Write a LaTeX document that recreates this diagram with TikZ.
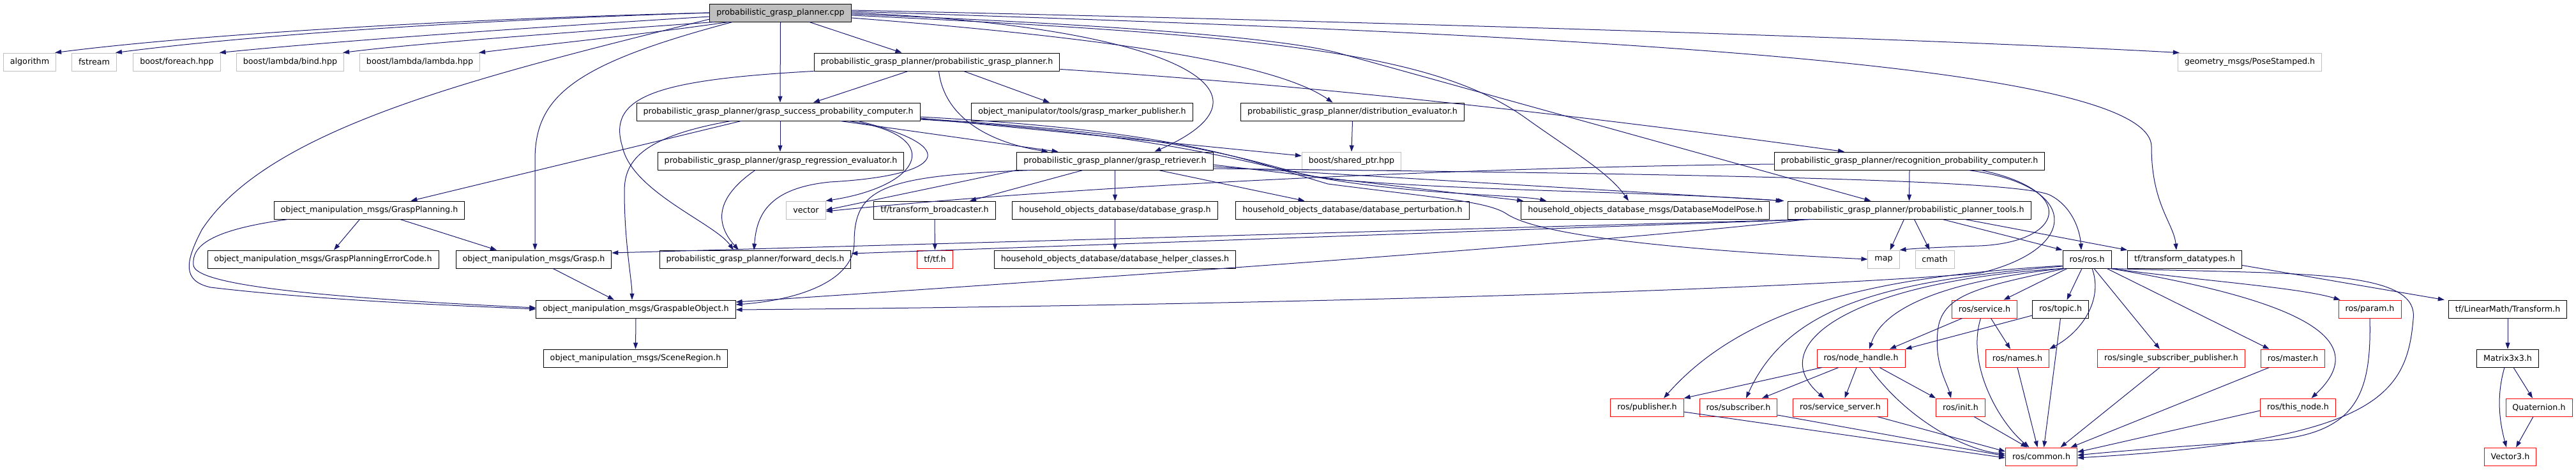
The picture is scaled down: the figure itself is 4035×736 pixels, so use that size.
\documentclass[tikz,border=0pt]{standalone}
\usepackage{fontspec}
\setmainfont{DejaVu Sans}
\usetikzlibrary{arrows.meta}
\definecolor{edgeblue}{RGB}{25,25,112}
\definecolor{sysgray}{RGB}{191,191,191}

\begin{document}
\begin{tikzpicture}[
        x=1pt, y=-1pt,
        every node/.style={rectangle, draw=black, line width=0.9pt, fill=white, minimum height=28pt, inner xsep=10.5pt, inner ysep=0pt, font=\fontsize{12.7}{14}\selectfont},
        srcfile/.style={fill=sysgray},
        sysfile/.style={draw=sysgray},
        truncfile/.style={draw=red},
        edge/.style={draw=edgeblue, line width=1pt, -{Triangle[length=10pt, width=7pt]}},
    ]
    \useasboundingbox (0,0) rectangle (4035,736);

    % === SOURCE FILE ===
    \node[srcfile] (cpp) at (1222.5,20) {probabilistic\_grasp\_planner.cpp};

    % === ROW 2 ===
    \node[sysfile] (alg) at (46.5,97) {algorithm};
    \node[sysfile] (fstream) at (147.5,97) {fstream};
    \node[sysfile] (foreach) at (277,97) {boost/foreach.hpp};
    \node[sysfile] (bind) at (454.5,97) {boost/lambda/bind.hpp};
    \node[sysfile] (lambda) at (657.5,97) {boost/lambda/lambda.hpp};
    \node (pgp) at (1467.5,97) {probabilistic\_grasp\_planner/probabilistic\_grasp\_planner.h};
    \node[sysfile] (pose) at (3524,97) {geometry\_msgs/PoseStamped.h};

    % === ROW 3 ===
    \node (gspc) at (1219,175) {probabilistic\_grasp\_planner/grasp\_success\_probability\_computer.h};
    \node (marker) at (1695,175) {object\_manipulator/tools/grasp\_marker\_publisher.h};
    \node (disteval) at (2118.5,175) {probabilistic\_grasp\_planner/distribution\_evaluator.h};

    % === ROW 4 ===
    \node (regression) at (1223,252) {probabilistic\_grasp\_planner/grasp\_regression\_evaluator.h};
    \node (retriever) at (1746.5,252) {probabilistic\_grasp\_planner/grasp\_retriever.h};
    \node[sysfile] (sharedptr) at (2117,252) {boost/shared\_ptr.hpp};
    \node (recog) at (2991,252) {probabilistic\_grasp\_planner/recognition\_probability\_computer.h};

    % === ROW 5 ===
    \node (gp) at (578.5,329) {object\_manipulation\_msgs/GraspPlanning.h};
    \node[sysfile] (vector) at (1262.5,329) {vector};
    \node (tfb) at (1464,329) {tf/transform\_broadcaster.h};
    \node (dbgrasp) at (1746.5,329) {household\_objects\_database/database\_grasp.h};
    \node (dbperturb) at (2118.5,329) {household\_objects\_database/database\_perturbation.h};
    \node (dbmodelpose) at (2577,329) {household\_objects\_database\_msgs/DatabaseModelPose.h};
    \node (tools) at (2990.5,329) {probabilistic\_grasp\_planner/probabilistic\_planner\_tools.h};

    % === ROW 6 ===
    \node (errorcode) at (506,406) {object\_manipulation\_msgs/GraspPlanningErrorCode.h};
    \node (grasp) at (836,406) {object\_manipulation\_msgs/Grasp.h};
    \node (fwddecls) at (1183,406) {probabilistic\_grasp\_planner/forward\_decls.h};
    \node[truncfile] (tftf) at (1464.5,406) {tf/tf.h};
    \node (helper) at (1746.5,406) {household\_objects\_database/database\_helper\_classes.h};
    \node[sysfile] (map) at (2950.5,406) {map};
    \node[sysfile] (cmath) at (3030.5,406) {cmath};
    \node (ros) at (3269,406) {ros/ros.h};
    \node (tfdt) at (3422,406) {tf/transform\_datatypes.h};

    % === ROW 7 ===
    \node (graspable) at (996,484) {object\_manipulation\_msgs/GraspableObject.h};
    \node[truncfile] (service) at (3108.5,484) {ros/service.h};
    \node (topic) at (3227.5,484) {ros/topic.h};
    \node[truncfile] (param) at (3712,484) {ros/param.h};
    \node (transform) at (3928,484) {tf/LinearMath/Transform.h};

    % === ROW 8 ===
    \node (scene) at (995.5,561) {object\_manipulation\_msgs/SceneRegion.h};
    \node[truncfile] (nodehandle) at (2915,561) {ros/node\_handle.h};
    \node[truncfile] (names) at (3160,561) {ros/names.h};
    \node[truncfile] (singlesub) at (3401,561) {ros/single\_subscriber\_publisher.h};
    \node[truncfile] (master) at (3591.5,561) {ros/master.h};
    \node (matrix) at (3928,561) {Matrix3x3.h};

    % === ROW 9 ===
    \node[truncfile] (publisher) at (2580,638) {ros/publisher.h};
    \node[truncfile] (subscriber) at (2723,638) {ros/subscriber.h};
    \node[truncfile] (server) at (2882.5,638) {ros/service\_server.h};
    \node[truncfile] (init) at (3071,638) {ros/init.h};
    \node[truncfile] (thisnode) at (3599.5,638) {ros/this\_node.h};
    \node[truncfile] (quaternion) at (3977,638) {Quaternion.h};

    % === ROW 10 ===
    \node[truncfile] (common) at (3197.5,715) {ros/common.h};
    \node[truncfile] (vector3) at (3932,715) {Vector3.h};

    % === INCLUDES OF THE SOURCE FILE ===
    \draw[edge] (cpp.west) .. controls (700,30) and (300,55) .. ([xshift=-2pt]alg.north east);
    \draw[edge] (cpp.west) .. controls (700,33) and (380,57) .. ([xshift=-2pt]fstream.north east);
    \draw[edge] ([yshift=-6pt]cpp.west) .. controls (800,45) and (520,65) .. ([xshift=-2pt]foreach.north east);
    \draw[edge] ([xshift=8pt]cpp.south west) .. controls (900,50) and (650,68) .. ([xshift=-2pt]bind.north east);
    \draw[edge] ([xshift=30pt]cpp.south west) .. controls (1000,55) and (850,70) .. ([xshift=-2pt]lambda.north east);
    \draw[edge] ([xshift=45pt]cpp.south) -- ([xshift=-55pt]pgp.north);
    \draw[edge] (cpp.south) -- ([xshift=3pt]gspc.north);
    \draw[edge] (cpp.east) .. controls (1820,40) and (2030,140) .. ([xshift=62pt]retriever.north);
    \draw[edge] ([yshift=-8pt]cpp.east) .. controls (1750,60) and (2000,100) .. ([xshift=-31pt]disteval.north);
    \draw[edge] ([yshift=-4pt]cpp.east) .. controls (2000,55) and (2250,85) .. (2390,185) .. controls (2460,235) and (2520,270) .. ([xshift=-26pt]dbmodelpose.north);
    \draw[edge] ([yshift=-2pt]cpp.east) .. controls (1900,45) and (2050,70) .. (2100,84) -- ([xshift=-60pt]tools.north);
    \draw[edge] ([yshift=2pt]cpp.east) .. controls (2500,55) and (3370,100) .. (3370,230) .. controls (3370,320) and (3405,350) .. ([xshift=-13pt]tfdt.north);
    \draw[edge] ([yshift=4pt]cpp.east) .. controls (2200,35) and (3000,60) .. ([xshift=3pt]pose.north west);
    \draw[edge] ([xshift=-75pt]cpp.south) .. controls (900,100) and (838,150) .. (838,250) -- ([xshift=2pt]grasp.north);
    \draw[edge] ([yshift=-10pt]cpp.west) .. controls (750,120) and (420,200) .. (316,360) .. controls (290,410) and (285,440) .. (330,450) .. controls (500,470) and (700,478) .. (graspable.west);

    % === PLANNER HEADER ===
    \draw[edge] ([xshift=-45pt]pgp.south) -- ([xshift=55pt]gspc.north);
    \draw[edge] ([xshift=42pt]pgp.south) -- ([xshift=-51pt]marker.north);
    \draw[edge] ([xshift=3pt]pgp.south) .. controls (1480,190) and (1560,225) .. ([xshift=-105pt]retriever.north);
    \draw[edge] ([yshift=3pt]pgp.south east) .. controls (2000,130) and (2400,170) .. ([xshift=-102pt]recog.north);
    \draw[edge] (pgp.south west) .. controls (1030,125) and (950,150) .. (975,230) .. controls (990,300) and (1120,350) .. ([xshift=-34pt]fwddecls.north);

    % === SUCCESS PROBABILITY COMPUTER ===
    \draw[edge] ([xshift=-58pt]gspc.south) -- ([xshift=65pt]gp.north);
    \draw[edge] ([xshift=-74pt]gspc.south) .. controls (1000,215) and (978,255) .. (978,300) .. controls (978,380) and (990,440) .. ([xshift=-6pt]graspable.north);
    \draw[edge] ([xshift=3pt]gspc.south) -- ([xshift=-1pt]regression.north);
    \draw[edge] ([xshift=97pt]gspc.south) -- ([xshift=-89pt]retriever.north);
    \draw[edge] ([xshift=110pt]gspc.south) .. controls (1480,210) and (1450,290) .. (vector.north east);
    \draw[edge] ([xshift=125pt]gspc.south) .. controls (1510,230) and (1480,275) .. (1300,285) .. controls (1200,295) and (1185,340) .. ([xshift=-2pt]fwddecls.north);
    \draw[edge] ([yshift=-10pt]gspc.east) -- ([yshift=8pt]sharedptr.west);
    \draw[edge] ([yshift=-11pt]gspc.east) .. controls (1850,210) and (1950,250) .. (2050,275) .. controls (2200,305) and (2380,305) .. ([xshift=40pt]dbmodelpose.north west);
    \draw[edge] ([yshift=-12pt]gspc.east) .. controls (1850,212) and (1960,260) .. (2080,280) .. controls (2300,300) and (2600,300) .. ([xshift=-8pt]tools.north west);
    \draw[edge] ([yshift=-8pt]gspc.east) .. controls (1850,205) and (1950,250) .. (2080,288) .. controls (2250,310) and (2330,315) .. (2360,335) .. controls (2420,375) and (2700,395) .. (map.west);

    % === REGRESSION EVALUATOR AND RETRIEVER ===
    \draw[edge] ([xshift=-40pt]regression.south) .. controls (1120,310) and (1120,350) .. ([xshift=-26pt]fwddecls.north);
    \draw[edge] (retriever.south west) -- (vector.east);
    \draw[edge] ([xshift=-130pt]retriever.south) .. controls (1380,275) and (1338,295) .. (1338,380) .. controls (1338,440) and (1250,470) .. ([yshift=7pt]graspable.east);
    \draw[edge] ([xshift=-50pt]retriever.south) -- ([xshift=55pt]tfb.north);
    \draw[edge] (retriever.south) -- (dbgrasp.north);
    \draw[edge] ([xshift=68pt]retriever.south) -- ([xshift=-75pt]dbperturb.north);
    \draw[edge] ([yshift=-6pt]retriever.east) -- ([xshift=4pt]dbmodelpose.north west);
    \draw[edge] ([yshift=-9pt]retriever.east) -- ([xshift=-5pt]tools.north west);
    \draw[edge] ([yshift=-12pt]retriever.east) .. controls (2600,272) and (3150,280) .. (3210,305) .. controls (3245,322) and (3258,360) .. ([xshift=-9pt]ros.north);
    \draw[edge] (disteval.south) -- (sharedptr.north);

    % === RECOGNITION PROBABILITY COMPUTER ===
    \draw[edge] (recog.south) -- (tools.north);
    \draw[edge] ([yshift=-5pt]recog.west) .. controls (2300,262) and (1700,290) .. ([yshift=-2pt]vector.east);
    \draw[edge] ([xshift=112pt]recog.south) .. controls (3260,300) and (3230,380) .. (3100,385) .. controls (3040,387) and (3000,389) .. (map.north east);
    \draw[edge] ([xshift=92pt]recog.south) .. controls (3260,290) and (3260,390) .. (3100,428) .. controls (2700,460) and (1800,480) .. ([yshift=-1pt]graspable.east);

    % === GRASP PLANNING MESSAGE ===
    \draw[edge] ([xshift=-15pt]gp.south) -- ([xshift=17pt]errorcode.north);
    \draw[edge] ([xshift=48pt]gp.south) -- ([xshift=-58pt]grasp.north);
    \draw[edge] ([xshift=-127pt]gp.south) .. controls (330,360) and (300,385) .. (303,415) .. controls (305,445) and (480,465) .. ([yshift=2pt]graspable.west);
    \draw[edge] ([xshift=30pt]grasp.south) -- ([xshift=-34pt]graspable.north);
    \draw[edge] (graspable.south) -- (scene.north);
    \draw[edge] (tfb.south) -- (tftf.north);
    \draw[edge] (dbgrasp.south) -- (helper.north);

    % === PLANNER TOOLS ===
    \draw[edge] ([xshift=-8pt]tools.south) -- ([xshift=10pt]map.north);
    \draw[edge] ([xshift=8pt]tools.south) -- ([xshift=-8pt]cmath.north);
    \draw[edge] ([xshift=52pt]tools.south) -- (ros.north west);
    \draw[edge] ([xshift=87pt]tools.south) -- (tfdt.north west);
    \draw[edge] ([xshift=-150pt]tools.south) -- ([yshift=9pt]fwddecls.east);
    \draw[edge] ([xshift=-160pt]tools.south) .. controls (2600,370) and (2100,410) .. ([yshift=11pt]graspable.east);
    \draw[edge] ([xshift=-155pt]tools.south) -- ([yshift=10pt]grasp.east);

    % === ROS HEADERS ===
    \draw[edge] ([yshift=-10pt]ros.west) .. controls (3000,430) and (2750,460) .. ([xshift=26pt]publisher.north);
    \draw[edge] ([yshift=-11pt]ros.west) .. controls (2950,440) and (2800,480) .. ([xshift=12pt]subscriber.north);
    \draw[edge] ([xshift=2pt]ros.south west) .. controls (2900,440) and (2760,540) .. ([xshift=-25pt]server.north);
    \draw[edge] (ros.south west) .. controls (3050,440) and (2950,480) .. ([xshift=13pt]nodehandle.north);
    \draw[edge] ([xshift=4pt]ros.south west) .. controls (3100,450) and (3040,460) .. (3035,520) .. controls (3030,570) and (3050,600) .. ([xshift=-15pt]init.north);
    \draw[edge] ([xshift=-31pt]ros.south) -- ([xshift=30pt]service.north);
    \draw[edge] ([xshift=-8pt]ros.south) -- ([xshift=10pt]topic.north);
    \draw[edge] ([xshift=8pt]ros.south) .. controls (3295,470) and (3260,520) .. (names.north east);
    \draw[edge] ([xshift=11pt]ros.south) -- ([xshift=-18pt]singlesub.north);
    \draw[edge] ([xshift=31pt]ros.south) -- ([xshift=-37pt]master.north);
    \draw[edge] ([xshift=-2pt]ros.south east) .. controls (3600,470) and (3720,530) .. ([xshift=21pt]thisnode.north);
    \draw[edge] ([xshift=-1pt]ros.south east) .. controls (3450,440) and (3600,450) .. ([xshift=3pt]param.north west);
    \draw[edge] (ros.south east) .. controls (3600,430) and (3790,420) .. (3780,500) .. controls (3770,620) and (3720,690) .. ([yshift=-2pt]common.east);

    \draw[edge] ([xshift=-35pt]service.south) -- ([xshift=45pt]nodehandle.north);
    \draw[edge] ([xshift=10pt]service.south) -- ([xshift=-11pt]names.north);
    \draw[edge] ([xshift=-6pt]service.south) .. controls (3080,570) and (3130,660) .. ([xshift=-19pt]common.north);
    \draw[edge] ([yshift=-10pt]topic.west) -- (nodehandle.north east);
    \draw[edge] (topic.south) -- ([xshift=4pt]common.north);

    \draw[edge] ([xshift=-61pt]nodehandle.south) -- (publisher.north east);
    \draw[edge] ([xshift=-35pt]nodehandle.south) -- ([xshift=37pt]subscriber.north);
    \draw[edge] ([xshift=-7pt]nodehandle.south) -- ([xshift=7pt]server.north);
    \draw[edge] ([xshift=29pt]nodehandle.south) -- (init.north west);
    \draw[edge] ([xshift=13pt]nodehandle.south) .. controls (2990,660) and (3080,705) .. ([yshift=4pt]common.west);

    \draw[edge] ([yshift=-7pt]publisher.east) -- ([yshift=-2pt]common.west);
    \draw[edge] ([yshift=-12pt]subscriber.east) -- ([yshift=1pt]common.west);
    \draw[edge] ([xshift=58pt]server.south) -- ([yshift=8pt]common.west);
    \draw[edge] ([xshift=21pt]init.south) -- ([xshift=-22pt]common.north);
    \draw[edge] (names.south) -- ([xshift=-6pt]common.north);
    \draw[edge] ([xshift=-18pt]singlesub.south) -- ([xshift=30pt]common.north);
    \draw[edge] ([xshift=-37pt]master.south) -- ([xshift=46pt]common.north);
    \draw[edge] ([yshift=-5pt]thisnode.west) -- ([yshift=7pt]common.east);
    \draw[edge] (param.south) .. controls (3715,620) and (3690,680) .. (3550,690) .. controls (3400,700) and (3300,708) .. ([yshift=2pt]common.east);

    % === LINEAR MATH ===
    \draw[edge] ([yshift=5pt]tfdt.south east) -- ([xshift=-6pt]transform.north west);
    \draw[edge] (transform.south) -- (matrix.north);
    \draw[edge] ([xshift=9pt]matrix.south) -- ([xshift=-10pt]quaternion.north);
    \draw[edge] ([xshift=-5pt]matrix.south) .. controls (3910,620) and (3915,660) .. ([xshift=-6pt]vector3.north);
    \draw[edge] ([xshift=-9pt]quaternion.south) -- ([xshift=9pt]vector3.north);

\end{tikzpicture}
\end{document}
